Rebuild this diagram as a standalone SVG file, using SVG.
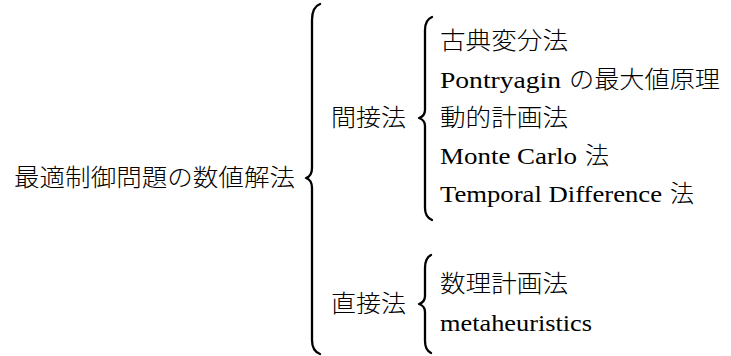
<svg xmlns="http://www.w3.org/2000/svg" width="731" height="356" viewBox="0 0 731 356">
<style>
text{font-family:"Noto Sans CJK JP",sans-serif;font-size:24px;font-weight:300;fill:#000}
text.lat{font-family:"Liberation Serif","Times New Roman","DejaVu Serif","Noto Serif",Times,FreeSerif,Georgia,serif;font-weight:400;font-size:24px}
.brace{fill:none;stroke:#000;stroke-width:2.3;stroke-linecap:round;stroke-linejoin:round}
</style>
<rect width="731" height="356" fill="#fff"/>
<g id="connectors">
<path class="brace" d="M320,4 Q312,7 312,20 V168 Q312,176 306,178 Q312,180 312,188 V340 Q312,351 320,354"/>
<path class="brace" d="M432,17 Q425,20 425,30 V110 Q425,116 419,118 Q425,120 425,126 V208 Q425,217 432,220"/>
<path class="brace" d="M431,255 Q425,258 425,268 V296 Q425,302 419,304 Q425,306 425,312 V341 Q425,350 431,353"/>
</g>
<g id="root"><text x="14" y="186" textLength="281" lengthAdjust="spacingAndGlyphs">最適制御問題の数値解法</text></g>
<g id="indirect"><text x="331" y="126" textLength="75" lengthAdjust="spacingAndGlyphs">間接法</text></g>
<g id="direct"><text x="331" y="312" textLength="75" lengthAdjust="spacingAndGlyphs">直接法</text></g>
<g id="classical"><text x="440" y="49" textLength="128" lengthAdjust="spacingAndGlyphs">古典変分法</text></g>
<g id="pontryagin"><text class="lat" x="440" y="88" textLength="121" lengthAdjust="spacingAndGlyphs">Pontryagin</text><text x="569" y="88" textLength="151" lengthAdjust="spacingAndGlyphs">の最大値原理</text></g>
<g id="dp"><text x="440" y="126" textLength="128" lengthAdjust="spacingAndGlyphs">動的計画法</text></g>
<g id="montecarlo"><text class="lat" x="440" y="164" textLength="137" lengthAdjust="spacingAndGlyphs">Monte Carlo</text><text x="585" y="164">法</text></g>
<g id="td"><text class="lat" x="440" y="202" textLength="222" lengthAdjust="spacingAndGlyphs">Temporal Difference</text><text x="670" y="202">法</text></g>
<g id="mp"><text x="440" y="292" textLength="128" lengthAdjust="spacingAndGlyphs">数理計画法</text></g>
<g id="meta"><text class="lat" x="440" y="331" textLength="152" lengthAdjust="spacingAndGlyphs">metaheuristics</text></g>
</svg>
